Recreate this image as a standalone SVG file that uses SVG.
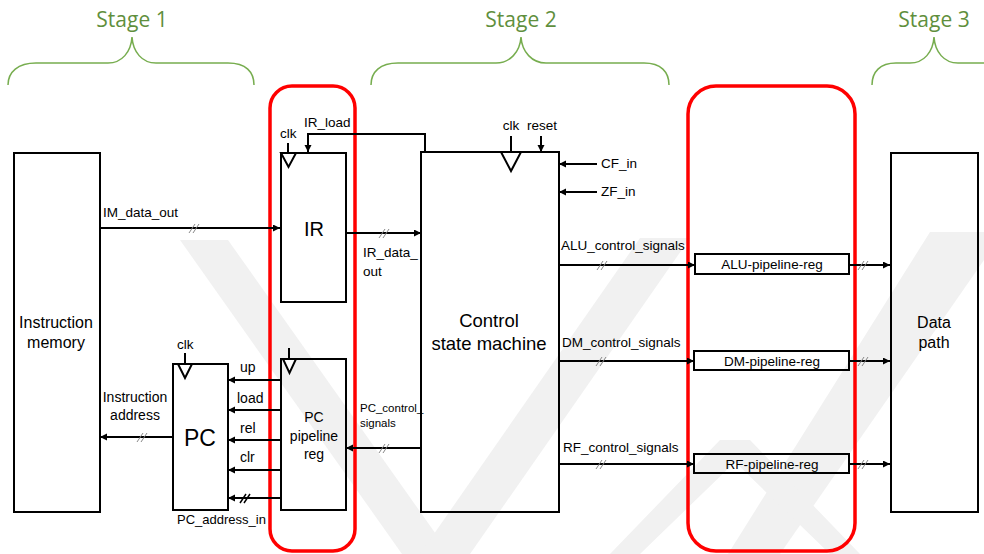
<svg xmlns="http://www.w3.org/2000/svg" width="984" height="554" viewBox="0 0 984 554">
<defs>
<marker id="arr" markerUnits="userSpaceOnUse" markerWidth="8" markerHeight="8" refX="7" refY="3.5" orient="auto">
<path d="M0,0 L7,3.5 L0,7 z" fill="#000"/>
</marker>
<style>
.box{fill:none;stroke:#000;stroke-width:2}
.w{stroke:#000;stroke-width:2;fill:none}
.a{stroke:#000;stroke-width:2;fill:none;marker-end:url(#arr)}
.sl{stroke:#888;stroke-width:1;fill:none}
.tri{fill:#fff;stroke:#000;stroke-width:2}
.red{fill:none;stroke:#ff0000;stroke-width:3.5}
.brace{fill:none;stroke:#77ad4f;stroke-width:1.5}
.stage{font-family:"Open Sans","Liberation Sans",sans-serif;font-size:21px;fill:#5f8f3d;text-anchor:middle}
.t{font-family:"Liberation Sans",Arial,sans-serif;font-size:13.5px;fill:#000}
.m{font-family:"Liberation Sans",Arial,sans-serif;font-size:14px;fill:#000}
.c{text-anchor:middle}
.big{font-family:"Liberation Sans",Arial,sans-serif;font-size:16px;fill:#000;text-anchor:middle}
.wm{fill:#f1f1f1}
</style>
</defs>
<rect width="984" height="554" fill="#fff"/>
<g id="watermark">
<polygon class="wm" points="180,240 228,240 450,554 402,554"/>
<polygon class="wm" points="640,238 690,238 470,554 420,554"/>
<polygon class="wm" points="930,232 984,232 984,260 780,554 728,554"/>
<polygon class="wm" points="720,440 750,440 860,554 830,554 735,462 640,554 610,554"/>
</g>
<g id="stages">
<text class="stage" x="132" y="27">Stage 1</text>
<path class="brace" d="M8,85 C8,72 18,63 36,63 L108,63 C122,63 131,52 132,37 C133,52 142,63 156,63 L228,63 C246,63 254,72 254,85"/>
<text class="stage" x="521" y="27">Stage 2</text>
<path class="brace" d="M371,85 C371,72 380,63 398,63 L496,63 C510,63 520,52 521,37 C522,52 532,63 546,63 L644,63 C661,63 669,72 669,85"/>
<text class="stage" x="934" y="27">Stage 3</text>
<path class="brace" d="M872,85 C872,72 880,63 896,63 L910,63 C924,63 933,52 934,37 C935,52 944,63 958,63 L984,63"/>
</g>
<g id="pipeline-boundaries">
<rect class="red" x="270" y="86" width="85" height="465" rx="22"/>
<rect class="red" x="688" y="86" width="167" height="465" rx="28"/>
</g>
<g id="connectors">
<line class="a" x1="100" y1="228" x2="280" y2="228"/>
<path class="sl" d="M189,233 L195,224 M193,233 L199,224"/>
<path class="a" d="M425,152 L425,134 L308,134 L308,152"/>
<line class="a" x1="346" y1="233" x2="421" y2="233"/>
<path class="sl" d="M379,238 L385,229 M383,238 L389,229"/>
<line class="w" x1="288" y1="143" x2="288" y2="153"/>
<line class="w" x1="511" y1="136" x2="511" y2="152"/>
<line class="a" x1="541" y1="136" x2="541" y2="152"/>
<line class="a" x1="597" y1="164" x2="559" y2="164"/>
<line class="a" x1="597" y1="192" x2="559" y2="192"/>
<line class="a" x1="559" y1="265" x2="695" y2="265"/>
<path class="sl" d="M597,270 L603,261 M601,270 L607,261"/>
<line class="a" x1="849" y1="265" x2="890" y2="265"/>
<path class="sl" d="M858,270 L864,261 M862,270 L868,261"/>
<line class="a" x1="559" y1="361" x2="694" y2="361"/>
<path class="sl" d="M596,366 L602,357 M600,366 L606,357"/>
<line class="a" x1="849" y1="361" x2="890" y2="361"/>
<path class="sl" d="M858,366 L864,357 M862,366 L868,357"/>
<line class="a" x1="559" y1="464" x2="694" y2="464"/>
<path class="sl" d="M596,469 L602,460 M600,469 L606,460"/>
<line class="a" x1="849" y1="464" x2="890" y2="464"/>
<path class="sl" d="M858,469 L864,460 M862,469 L868,460"/>
<line class="a" x1="421" y1="448" x2="346" y2="448"/>
<path class="sl" d="M379,453 L385,444 M383,453 L389,444"/>
<line class="w" x1="289" y1="348" x2="289" y2="359"/>
<line class="w" x1="185" y1="353" x2="185" y2="364"/>
<line class="a" x1="281" y1="380" x2="228" y2="380"/>
<line class="a" x1="281" y1="410" x2="228" y2="410"/>
<line class="a" x1="281" y1="440" x2="228" y2="440"/>
<line class="a" x1="281" y1="470" x2="228" y2="470"/>
<line class="a" x1="281" y1="498" x2="228" y2="498"/>
<path class="sl" d="M240,503 L246,494 M244,503 L250,494" style="stroke:#000;stroke-width:1.5"/>
<line class="a" x1="173" y1="437" x2="100" y2="437"/>
<path class="sl" d="M137,442 L143,433 M141,442 L147,433"/>
</g>
<g id="instruction-memory">
<rect class="box" x="14" y="153" width="86" height="359"/>
<text class="big" x="56" y="328">Instruction</text>
<text class="big" x="56" y="348">memory</text>
<text class="t" x="103" y="217">IM_data_out</text>
</g>
<g id="ir">
<rect class="box" x="281" y="153" width="65" height="149"/>
<polygon class="tri" points="281,153 296,153 288.5,167"/>
<text class="t" x="280" y="138">clk</text>
<text class="t" x="304" y="127">IR_load</text>
<text x="314" y="236" style="font-family:'Liberation Sans',Arial,sans-serif;font-size:20px;text-anchor:middle">IR</text>
<text class="t" x="363" y="257">IR_data_</text>
<text class="t" x="363" y="276">out</text>
</g>
<g id="control-state-machine">
<rect class="box" x="421" y="152" width="138" height="360"/>
<polygon class="tri" points="501,152 521,152 511,171"/>
<text class="t c" x="511" y="130">clk</text>
<text class="t" x="527" y="130">reset</text>
<text class="t" x="601" y="168">CF_in</text>
<text class="t" x="601" y="196">ZF_in</text>
<text x="489" y="327" style="font-family:'Liberation Sans',Arial,sans-serif;font-size:18.5px;text-anchor:middle">Control</text>
<text x="489" y="350" style="font-family:'Liberation Sans',Arial,sans-serif;font-size:18.5px;text-anchor:middle">state machine</text>
<text class="t" x="561" y="250">ALU_control_signals</text>
<text class="t" x="562" y="347">DM_control_signals</text>
<text class="t" x="563" y="452">RF_control_signals</text>
<text x="360" y="412" style="font-family:'Liberation Sans',Arial,sans-serif;font-size:11.5px">PC_control_</text>
<text x="360" y="427" style="font-family:'Liberation Sans',Arial,sans-serif;font-size:11.5px">signals</text>
</g>
<g id="alu-pipeline-reg">
<rect class="box" x="695" y="254" width="154" height="20"/>
<text class="t c" x="772" y="269">ALU-pipeline-reg</text>
</g>
<g id="dm-pipeline-reg">
<rect class="box" x="694" y="351" width="155" height="19"/>
<text class="t c" x="772" y="366">DM-pipeline-reg</text>
</g>
<g id="rf-pipeline-reg">
<rect class="box" x="694" y="454" width="155" height="19"/>
<text class="t c" x="772" y="469">RF-pipeline-reg</text>
</g>
<g id="data-path">
<rect class="box" x="891" y="153" width="87" height="359"/>
<text class="big" x="934" y="328">Data</text>
<text class="big" x="934" y="348">path</text>
</g>
<g id="pc-pipeline-reg">
<rect class="box" x="281" y="359" width="65" height="151"/>
<polygon class="tri" points="283,359 296,359 289.5,373"/>
<text class="m c" x="314" y="422">PC</text>
<text class="m c" x="314" y="441">pipeline</text>
<text class="m c" x="314" y="459">reg</text>
</g>
<g id="pc">
<rect class="box" x="173" y="364" width="55" height="146"/>
<polygon class="tri" points="178,364 192,364 185,378"/>
<text class="t" x="177" y="349">clk</text>
<text x="200" y="446" style="font-family:'Liberation Sans',Arial,sans-serif;font-size:23px;text-anchor:middle">PC</text>
<text class="m" x="240" y="372">up</text>
<text class="m" x="237" y="403">load</text>
<text class="m" x="240" y="433">rel</text>
<text class="m" x="240" y="462">clr</text>
<text class="m c" x="135" y="402">Instruction</text>
<text class="m c" x="135" y="420">address</text>
<text x="177" y="524" style="font-family:'Liberation Sans',Arial,sans-serif;font-size:13px">PC_address_in</text>
</g>
</svg>
